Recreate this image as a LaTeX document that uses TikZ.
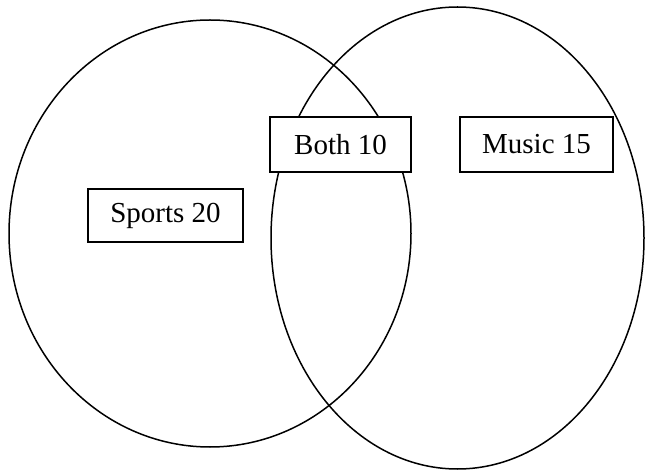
\documentclass[tikz,border=0pt]{standalone}
\usepackage{fontspec}
\setmainfont{Liberation Serif}
\usetikzlibrary{shapes.geometric}
\tikzset{
  setring/.style={draw=black, line width=1.5pt, ellipse, inner sep=0pt, outer sep=0pt},
  labelbox/.style={draw=black, fill=white, line width=1.5pt, inner sep=0pt, outer sep=0pt,
    font=\fontsize{29}{34}\selectfont, align=center}
}
\begin{document}
\begin{tikzpicture}[x=1pt,y=-1pt]
\useasboundingbox (0,0) rectangle (645,470);
\node[setring, minimum width=402pt, minimum height=427pt] (sportsset) at (210,233.5) {};
\node[setring, minimum width=373pt, minimum height=462pt] (musicset) at (457.5,238) {};
\node[labelbox, minimum width=141pt, minimum height=55pt] (both) at (340.5,144.5) {Both 10};
\node[labelbox, minimum width=153pt, minimum height=55pt] (music) at (536.5,144.5) {Music 15};
\node[labelbox, minimum width=155pt, minimum height=53pt] (sports) at (165.5,215.5) {Sports 20};
\end{tikzpicture}
\end{document}
